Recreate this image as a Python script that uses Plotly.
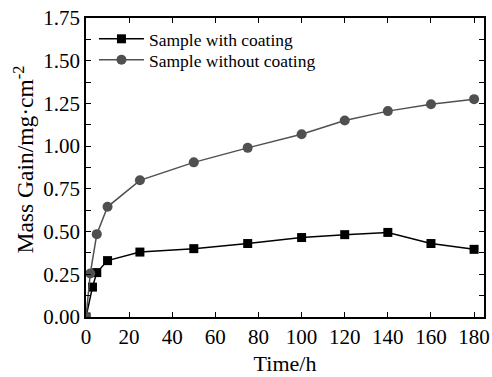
import plotly.graph_objects as go

# Data
x_coated = [0, 3, 5, 10, 25, 50, 75, 100, 120, 140, 160, 180]
y_coated = [0.0, 0.175, 0.26, 0.33, 0.38, 0.40, 0.43, 0.465, 0.482, 0.495, 0.43, 0.396]

x_uncoated = [0, 2, 5, 10, 25, 50, 75, 100, 120, 140, 160, 180]
y_uncoated = [0.0, 0.255, 0.485, 0.645, 0.80, 0.905, 0.99, 1.07, 1.15, 1.205, 1.245, 1.275]

x_ticks = [0, 20, 40, 60, 80, 100, 120, 140, 160, 180]
y_ticks = [0, 0.125, 0.25, 0.375, 0.5, 0.625, 0.75, 0.875, 1.0, 1.125, 1.25, 1.375, 1.5, 1.625, 1.75]
y_ticktext = ["0.00", "", "0.25", "", "0.50", "", "0.75", "", "1.00", "", "1.25", "", "1.50", "", "1.75"]

FONT = "Liberation Serif"

fig = go.Figure()
fig.add_trace(go.Scatter(
    x=x_coated, y=y_coated, mode="lines+markers", name="Sample with coating",
    line=dict(color="#000000", width=1.5),
    marker=dict(symbol="square", size=9, color="#000000"),
    legend="legend",
))
fig.add_trace(go.Scatter(
    x=x_uncoated, y=y_uncoated, mode="lines+markers", name="Sample without coating",
    line=dict(color="#505050", width=1.5),
    marker=dict(symbol="circle", size=10, color="#505050"),
    legend="legend2",
))

axis_common = dict(
    showline=True, linecolor="black", linewidth=1.5, mirror="ticks",
    ticks="inside", ticklen=5, tickwidth=1, tickcolor="black",
    showgrid=False, zeroline=False, automargin=False,
    tickfont=dict(family=FONT, size=21, color="black"),
)

legend_common = dict(
    xanchor="left", yanchor="middle",
    bgcolor="rgba(0,0,0,0)", borderwidth=0,
    font=dict(family=FONT, size=17.5, color="black"),
    itemwidth=45,
)

fig.update_layout(
    width=492, height=377,
    margin=dict(l=86, r=8, t=18, b=60),
    paper_bgcolor="white", plot_bgcolor="white",
    font=dict(family=FONT, color="black"),
    showlegend=True,
    legend=dict(x=0.02, y=0.93, **legend_common),
    legend2=dict(x=0.02, y=0.86, **legend_common),
    xaxis=dict(
        range=[0, 184.6], tickvals=x_ticks,
        title=dict(text="Time/h", font=dict(family=FONT, size=22), standoff=8),
        **axis_common,
    ),
    yaxis=dict(
        range=[0, 1.75], tickvals=y_ticks, ticktext=y_ticktext,
        **axis_common,
    ),
    annotations=[dict(
        text="Mass Gain/mg·cm<sup>-2</sup>", textangle=-90,
        xref="paper", yref="paper", x=0, y=0.5,
        xanchor="center", yanchor="middle", xshift=-63, yshift=8,
        showarrow=False, font=dict(family=FONT, size=23.5, color="black"),
    )],
)

fig.write_html("out.html", post_script="document.body.style.margin='0';",
               config={"displayModeBar": False})
